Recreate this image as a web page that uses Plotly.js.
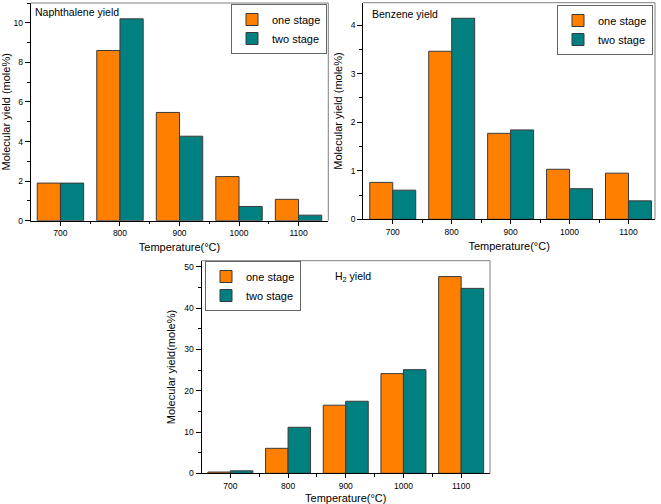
<!DOCTYPE html>
<html>
<head>
<meta charset="utf-8">
<script src="https://cdn.plot.ly/plotly-3.0.1.min.js"></script>
<style>html,body{margin:0;padding:0;background:#fff;}#chart{width:661px;height:504px;}</style>
</head>
<body>
<div id="chart"></div>
<script>
const temps = [700, 800, 900, 1000, 1100];
const seriesNames = ['one stage', 'two stage'];
const naphOne = [1.9, 8.6, 5.47, 2.23, 1.08];
const naphTwo = [1.9, 10.2, 4.27, 0.72, 0.28];
const benzOne = [0.76, 3.46, 1.77, 1.03, 0.95];
const benzTwo = [0.6, 4.14, 1.84, 0.63, 0.38];
const h2One = [0.3, 6.05, 16.5, 24.15, 47.65];
const h2Two = [0.6, 11.15, 17.45, 25.1, 44.8];
const panelTitles = ['Naphthalene yield', 'Benzene yield', 'H<sub>2</sub> yield'];

const FONT = 'Arial, "Liberation Sans", sans-serif';
const ORANGE = '#FF8000';
const TEAL = '#008080';
const W = 661, H = 504;

function bar(x, y, name, color, xa, ya, leg, show) {
  return {
    type: 'bar', x: x, y: y, name: name, xaxis: xa, yaxis: ya, legend: leg,
    showlegend: show,
    marker: {color: color, line: {color: '#3a3a3a', width: 1}}
  };
}

const data = [
  bar(temps, naphOne, seriesNames[0], ORANGE, 'x', 'y', 'legend', true),
  bar(temps, naphTwo, seriesNames[1], TEAL, 'x', 'y', 'legend', true),
  bar(temps, benzOne, seriesNames[0], ORANGE, 'x2', 'y2', 'legend2', true),
  bar(temps, benzTwo, seriesNames[1], TEAL, 'x2', 'y2', 'legend2', true),
  bar(temps, h2One, seriesNames[0], ORANGE, 'x3', 'y3', 'legend3', true),
  bar(temps, h2Two, seriesNames[1], TEAL, 'x3', 'y3', 'legend3', true)
];

function px(a, b) { return [a / W, b / W]; }
function py(top, bottom) { return [1 - bottom / H, 1 - top / H]; }

function xax(domain, anchor, range) {
  return {
    domain: domain, anchor: anchor, range: range, type: 'linear',
    tickmode: 'array', tickvals: temps, ticktext: temps.map(String),
    ticks: 'outside', ticklen: 4, tickwidth: 1, tickcolor: '#000',
    minor: {tickmode: 'array', tickvals: [750, 850, 950, 1050], ticks: 'outside', ticklen: 2.5, tickcolor: '#000'},
    showline: true, linecolor: '#000', linewidth: 1,
    showgrid: false, zeroline: false, fixedrange: true,
    tickfont: {family: FONT, size: 8.5, color: '#000'},
    title: {text: 'Temperature(\u00B0C)', font: {family: FONT, size: 11, color: '#000'}, standoff: 6}
  };
}
function yax(domain, anchor, range, dtick, title) {
  return {
    domain: domain, anchor: anchor, range: range,
    dtick: dtick, tick0: 0,
    ticks: 'outside', ticklen: 5, tickwidth: 1, tickcolor: '#000',
    minor: {dtick: dtick / 2, tick0: 0, ticks: 'outside', ticklen: 3, tickcolor: '#000'},
    showline: true, linecolor: '#000', linewidth: 1,
    showgrid: false, zeroline: false, fixedrange: true,
    tickfont: {family: FONT, size: 8.5, color: '#000'},
    title: {text: title, font: {family: FONT, size: 11, color: '#000'}, standoff: 6}
  };
}

function frame(xr, yr) {
  return [
    {type: 'line', xref: xr + ' domain', yref: yr + ' domain', x0: 0, x1: 1, y0: 1, y1: 1, line: {color: '#808080', width: 1}},
    {type: 'line', xref: xr + ' domain', yref: yr + ' domain', x0: 1, x1: 1, y0: 0, y1: 1, line: {color: '#808080', width: 1}}
  ];
}

function legendBox(xPx, yPx) {
  return {
    x: xPx / W, y: 1 - yPx / H, xanchor: 'left', yanchor: 'top',
    xref: 'paper', yref: 'paper',
    bgcolor: '#fff', bordercolor: '#666', borderwidth: 1,
    font: {family: FONT, size: 11, color: '#000'},
    tracegroupgap: 0, itemwidth: 30, traceorder: 'normal'
  };
}

const layout = {
  width: W, height: H,
  margin: {l: 0, r: 0, t: 0, b: 0},
  paper_bgcolor: '#fff', plot_bgcolor: '#fff',
  barmode: 'group', bargap: 0.22, bargroupgap: 0,
  font: {family: FONT, color: '#000'},
  xaxis: xax(px(30.7, 328.3), 'y', [650, 1150]),
  yaxis: yax(py(3, 220.7), 'x', [0, 11], 2, 'Molecular yield (mole%)'),
  xaxis2: xax(px(363.3, 655), 'y2', [650, 1145]),
  yaxis2: yax(py(2.7, 219.3), 'x2', [0, 4.46], 1, 'Molecular yield (mole%)'),
  xaxis3: xax(px(201.5, 490), 'y3', [650, 1150]),
  yaxis3: yax(py(260.7, 473.3), 'x3', [0, 51.5], 10, 'Molecular yield(mole%)'),
  legend: legendBox(231, 4),
  legend2: legendBox(557, 5),
  legend3: legendBox(205, 261),
  shapes: [].concat(frame('x', 'y'), frame('x2', 'y2'), frame('x3', 'y3')),
  annotations: [
    {xref: 'paper', yref: 'paper', x: 33 / W, y: 1 - 11.7 / H, xanchor: 'left', yanchor: 'middle', text: panelTitles[0], showarrow: false, font: {family: FONT, size: 10.5, color: '#000'}},
    {xref: 'paper', yref: 'paper', x: 370 / W, y: 1 - 14 / H, xanchor: 'left', yanchor: 'middle', text: panelTitles[1], showarrow: false, font: {family: FONT, size: 10.5, color: '#000'}},
    {xref: 'paper', yref: 'paper', x: 333 / W, y: 1 - 277 / H, xanchor: 'left', yanchor: 'middle', text: panelTitles[2], showarrow: false, font: {family: FONT, size: 10.5, color: '#000'}}
  ]
};

Plotly.newPlot('chart', data, layout, {displayModeBar: false, staticPlot: true});
</script>
</body>
</html>
